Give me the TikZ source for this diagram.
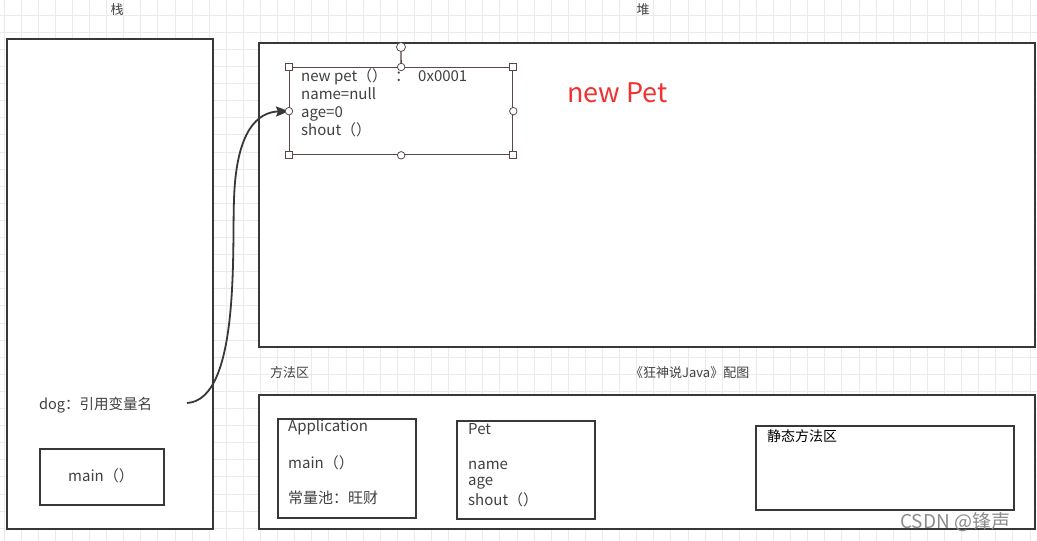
\documentclass[tikz,border=0pt]{standalone}
\usepackage{fontspec}
\setmainfont{Noto Sans CJK SC}
\usetikzlibrary{arrows.meta}
\definecolor{boxc}{HTML}{383838}
\definecolor{txtc}{HTML}{404040}
\definecolor{gridc}{HTML}{EBEBEB}
\definecolor{objc}{HTML}{5E4545}
\definecolor{redc}{HTML}{F03232}
\begin{document}
\begin{tikzpicture}[x=1pt,y=-1pt,
  box/.style={draw=boxc,line width=1.8pt,fill=white,inner sep=0pt,anchor=north west},
  lbl/.style={text=txtc,inner sep=0pt,anchor=west,font=\fontsize{13}{15}\selectfont},
  body/.style={text=txtc,inner sep=0pt,anchor=west,font=\fontsize{15}{18}\selectfont},
  objline/.style={draw=objc,line width=1.3pt},
  handsq/.style={draw=objc,fill=white,line width=0.8pt,minimum size=7pt,inner sep=0pt,rectangle},
  handci/.style={draw=objc,fill=white,line width=0.8pt,minimum size=7.5pt,inner sep=0pt,circle}]
\useasboundingbox (0,0) rectangle (1037,541);
\fill[white] (0,0) rectangle (1037,541);
% grid
\foreach \i in {0,...,60} \draw[gridc,line width=0.6pt] ({3.8+17.1*\i},0) -- ({3.8+17.1*\i},541);
\foreach \j in {0,...,31} \draw[gridc,line width=0.6pt] (0,{15+17.1*(\j-1)}) -- (1037,{15+17.1*(\j-1)});
% titles
\node[lbl,anchor=center] (tstack) at (117,10) {栈};
\node[lbl,anchor=center] (theap) at (643,10) {堆};
% stack
\node[box,minimum width=206pt,minimum height=490pt] (stack) at (6,38) {};
\node[body,font=\fontsize{14.5}{18}\selectfont] (dog) at (39,405) {dog：引用变量名};
\node[box,minimum width=124pt,minimum height=56pt] (mainbox) at (39,448) {};
\node[body,anchor=center] (maintxt) at (101,476) {main（）};
% heap
\node[box,minimum width=776pt,minimum height=304pt] (heap) at (258,42) {};
\node[draw=objc,line width=1.3pt,fill=white,inner sep=0pt,anchor=north west,minimum width=223pt,minimum height=87pt] (obj) at (289,67) {};
\node[text=txtc,inner sep=0pt,anchor=north west,align=left,font=\fontsize{15}{18}\selectfont] (objtxt) at (301,68) {new pet（）\hspace{8pt}：\hspace{8pt}0x0001\\name=null\\age=0\\shout（）};
\node[inner sep=0pt,anchor=west,text=redc,font=\fontsize{27}{30}\selectfont] (newpet) at (567,93) {new Pet};
% arrow
\coordinate (dstart) at (187,403);
\draw[boxc,line width=1.8pt,-{Stealth[length=13pt,width=10pt,inset=2pt]}]
  (dstart) .. controls (240,400) and (232,250) .. (234,200)
  .. controls (236,130) and (258,112) .. (obj.west);
% handles
\coordinate (rot) at (401,47);
\draw[objline] (obj.north) -- (rot);
\node[handci,minimum size=9pt] (roth) at (rot) {};
\foreach \a in {north west,north east,south west,south east} \node[handsq] at (obj.\a) {};
\foreach \a in {north,south,east,west} \node[handci] at (obj.\a) {};
% method area
\node[lbl] (fangfa) at (270,373) {方法区};
\node[lbl] (kuang) at (630,373) {《狂神说Java》配图};
\node[box,minimum width=776pt,minimum height=134pt] (method) at (258,394) {};
\node[box,minimum width=138pt,minimum height=99pt] (app) at (277,418) {};
\node[body] (apptxt1) at (288,427) {Application};
\node[body] (apptxt2) at (288,463) {main（）};
\node[body] (apptxt3) at (288,498) {常量池：旺财};
\node[box,minimum width=138pt,minimum height=98pt] (pet) at (456,420) {};
\node[body] (pettxt1) at (468,429) {Pet};
\node[body] (pettxt2) at (468,465) {name};
\node[body] (pettxt3) at (468,483) {age};
\node[body] (pettxt4) at (468,500) {shout（）};
\node[box,minimum width=258pt,minimum height=84pt] (static) at (755,425) {};
\node[body,text=black,font=\fontsize{14}{16}\selectfont] (stattxt) at (767,436) {静态方法区};
% watermark
\node[inner sep=0pt,anchor=west,text=black!45,font=\fontsize{19}{20}\selectfont] (wm) at (900,522) {CSDN @锋声};
\end{tikzpicture}
\end{document}
